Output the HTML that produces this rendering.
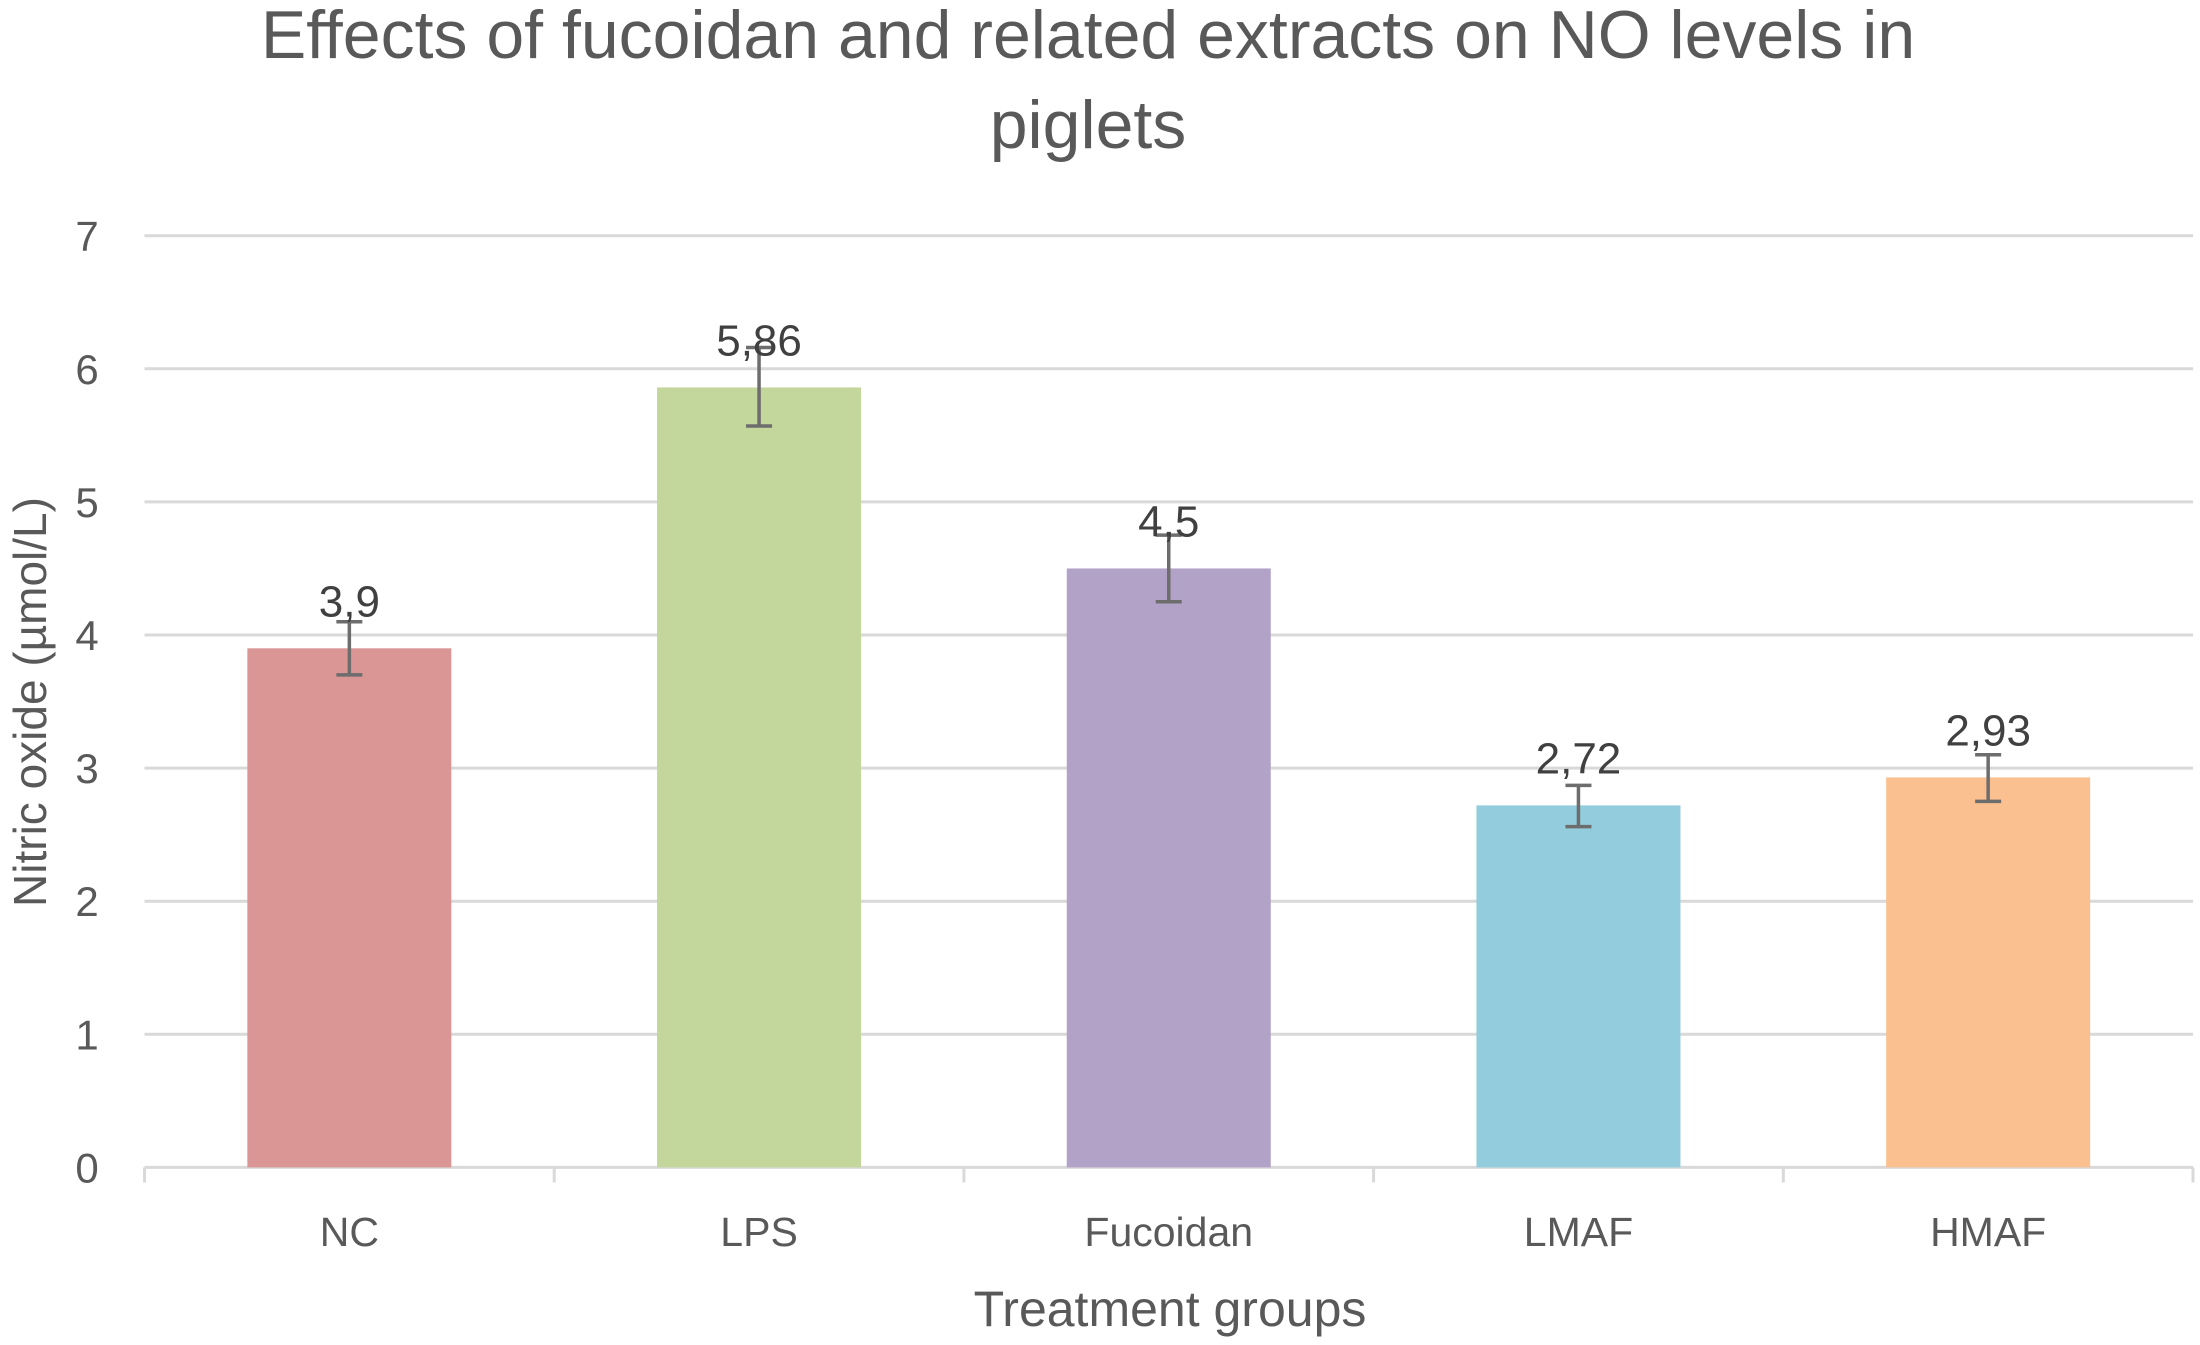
<!DOCTYPE html>
<html><head><meta charset="utf-8"><style>
html,body{margin:0;padding:0;background:#fff;}
svg text{font-family:"Liberation Sans",sans-serif;}
</style></head><body>
<svg id="chart" width="2200" height="1340" xmlns="http://www.w3.org/2000/svg">
<text x="1088" y="58" font-size="68" fill="#595959" text-anchor="middle">Effects of fucoidan and related extracts on NO levels in</text>
<text x="1088" y="148" font-size="68" fill="#595959" text-anchor="middle">piglets</text>
<g id="grid"></g><g id="bars"></g><g id="labels"></g>
<text transform="translate(46,702) rotate(-90)" font-size="46" fill="#595959" text-anchor="middle">Nitric oxide  (µmol/L)</text>
<text x="1170" y="1326" font-size="50" fill="#595959" text-anchor="middle">Treatment groups</text>
</svg>
<script>
const categories=["NC","LPS","Fucoidan","LMAF","HMAF"];
const values=[3.9,5.86,4.5,2.72,2.93];
const valueLabels=["3,9","5,86","4,5","2,72","2,93"];
const errLow=[3.70,5.57,4.25,2.56,2.75];
const errHigh=[4.10,6.16,4.75,2.87,3.10];
const colors=["#D99694","#C3D69B","#B2A2C7","#93CDDD","#FAC090"];
const yTicks=[0,1,2,3,4,5,6,7];
const NS="http://www.w3.org/2000/svg";
const L=144.5,R=2193,Y0=1167.4,Y7=235.7,yMax=7;
const y=v=>Y0-(v/yMax)*(Y0-Y7);
const band=(R-L)/categories.length;
const xc=i=>L+band*(i+0.5);
function mk(t,a,p){const e=document.createElementNS(NS,t);for(const k in a)e.setAttribute(k,a[k]);p.appendChild(e);return e;}
const grid=document.getElementById('grid'),bars=document.getElementById('bars'),lab=document.getElementById('labels');
yTicks.forEach(t=>{
 const l=mk('line',{x1:L,x2:R,y1:y(t),y2:y(t),stroke:'#d9d9d9','stroke-width':3},grid);
 
 
 const tx=mk('text',{x:87,y:y(t)+15,'font-size':42,fill:'#595959','text-anchor':'middle'},lab);
 tx.textContent=t;
 
 
});
for(let i=0;i<=categories.length;i++){
 const tk=mk('line',{x1:L+band*i,x2:L+band*i,y1:Y0,y2:Y0+15,stroke:'#d9d9d9','stroke-width':3},grid);
 
 
}
const bw=204;
categories.forEach((c,i)=>{
 const r=mk('rect',{x:xc(i)-bw/2,y:y(values[i]),width:bw,height:Y0-y(values[i]),fill:colors[i]},bars);
 
 
 const g=mk('g',{stroke:'#6d6d6d','stroke-width':3.5,fill:'none'},bars);
 
 
 mk('line',{x1:xc(i),x2:xc(i),y1:y(errHigh[i]),y2:y(errLow[i])},g);
 mk('line',{x1:xc(i)-13,x2:xc(i)+13,y1:y(errHigh[i]),y2:y(errHigh[i])},g);
 mk('line',{x1:xc(i)-13,x2:xc(i)+13,y1:y(errLow[i]),y2:y(errLow[i])},g);
 const vt=mk('text',{x:xc(i),y:y(values[i])-32,'font-size':44,fill:'#404040','text-anchor':'middle'},lab);
 vt.textContent=valueLabels[i];
 
 
 const ct=mk('text',{x:xc(i),y:1246,'font-size':41,fill:'#595959','text-anchor':'middle'},lab);
 ct.textContent=c;
 
 
});
</script>
</body></html>
